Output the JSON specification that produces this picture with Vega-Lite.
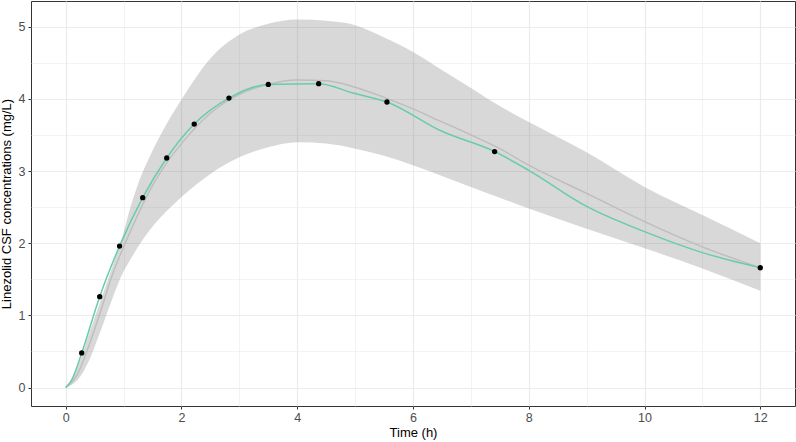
{
  "$schema": "https://vega.github.io/schema/vega-lite/v6.json",
  "width": 764,
  "height": 405,
  "autosize": {"type": "none"},
  "padding": {"left": 31, "top": 1, "right": 1, "bottom": 36},
  "background": "white",
  "config": {
    "font": "Liberation Sans",
    "view": {"stroke": "#333333", "strokeWidth": 1},
    "axis": {
      "domain": false,
      "labelFont": "Liberation Sans",
      "labelFontSize": 12.5,
      "labelColor": "#4d4d4d",
      "titleFont": "Liberation Sans",
      "titleFontSize": 13,
      "titleFontWeight": "normal",
      "titleColor": "#000000",
      "tickColor": "#333333",
      "tickSize": 3,
      "gridColor": "#ebebeb"
    }
  },
  "datasets": {
    "band": [
      {"t": 0, "lo": 0, "hi": 0},
      {"t": 0.2, "lo": 0.1, "hi": 0.28},
      {"t": 0.4, "lo": 0.37, "hi": 0.74},
      {"t": 0.6, "lo": 0.78, "hi": 1.2},
      {"t": 0.8, "lo": 1.22, "hi": 1.66},
      {"t": 1.0, "lo": 1.61, "hi": 2.15},
      {"t": 1.1, "lo": 1.75, "hi": 2.45},
      {"t": 1.25, "lo": 1.95, "hi": 2.82},
      {"t": 1.5, "lo": 2.23, "hi": 3.28},
      {"t": 1.75, "lo": 2.45, "hi": 3.66},
      {"t": 2.0, "lo": 2.64, "hi": 3.99},
      {"t": 2.5, "lo": 2.96, "hi": 4.56},
      {"t": 3.0, "lo": 3.19, "hi": 4.89},
      {"t": 3.5, "lo": 3.33, "hi": 5.04},
      {"t": 4.0, "lo": 3.4, "hi": 5.1},
      {"t": 4.5, "lo": 3.38, "hi": 5.08},
      {"t": 5.0, "lo": 3.31, "hi": 5.02},
      {"t": 5.5, "lo": 3.21, "hi": 4.85},
      {"t": 6.0, "lo": 3.08, "hi": 4.65},
      {"t": 6.5, "lo": 2.93, "hi": 4.4},
      {"t": 7.0, "lo": 2.78, "hi": 4.15},
      {"t": 7.5, "lo": 2.63, "hi": 3.9},
      {"t": 8.0, "lo": 2.48, "hi": 3.68},
      {"t": 9.0, "lo": 2.2, "hi": 3.26},
      {"t": 10.0, "lo": 1.93, "hi": 2.78},
      {"t": 11.0, "lo": 1.65, "hi": 2.39},
      {"t": 12.0, "lo": 1.34, "hi": 2.0}
    ],
    "median": [
      {"t": 0, "c": 0},
      {"t": 0.2, "c": 0.18},
      {"t": 0.4, "c": 0.58},
      {"t": 0.6, "c": 1.05},
      {"t": 0.8, "c": 1.55},
      {"t": 1.0, "c": 1.95},
      {"t": 1.25, "c": 2.4},
      {"t": 1.5, "c": 2.8},
      {"t": 1.75, "c": 3.12},
      {"t": 2.0, "c": 3.38},
      {"t": 2.5, "c": 3.8},
      {"t": 3.0, "c": 4.06},
      {"t": 3.5, "c": 4.2},
      {"t": 4.0, "c": 4.26},
      {"t": 4.5, "c": 4.25},
      {"t": 5.0, "c": 4.16},
      {"t": 5.5, "c": 4.02},
      {"t": 6.0, "c": 3.86},
      {"t": 6.5, "c": 3.68},
      {"t": 7.0, "c": 3.5},
      {"t": 7.5, "c": 3.31},
      {"t": 8.0, "c": 3.08},
      {"t": 9.0, "c": 2.69},
      {"t": 10.0, "c": 2.3},
      {"t": 11.0, "c": 1.95},
      {"t": 12.0, "c": 1.66}
    ],
    "fit": [
      {"t": 0, "c": 0},
      {"t": 0.1, "c": 0.1},
      {"t": 0.276, "c": 0.48},
      {"t": 0.587, "c": 1.26},
      {"t": 0.93, "c": 1.96},
      {"t": 1.33, "c": 2.63},
      {"t": 1.745, "c": 3.18},
      {"t": 2.22, "c": 3.65},
      {"t": 2.82, "c": 4.01},
      {"t": 3.5, "c": 4.2},
      {"t": 4.37, "c": 4.21},
      {"t": 4.96, "c": 4.08},
      {"t": 5.55, "c": 3.956},
      {"t": 6.5, "c": 3.55},
      {"t": 7.41, "c": 3.27},
      {"t": 8.0, "c": 3.01},
      {"t": 9.0, "c": 2.51},
      {"t": 10.0, "c": 2.16},
      {"t": 11.0, "c": 1.87},
      {"t": 12.0, "c": 1.66}
    ],
    "obs": [
      {"t": 0.276, "c": 0.48},
      {"t": 0.587, "c": 1.26},
      {"t": 0.93, "c": 1.96},
      {"t": 1.33, "c": 2.63},
      {"t": 1.745, "c": 3.18},
      {"t": 2.22, "c": 3.65},
      {"t": 2.82, "c": 4.01},
      {"t": 3.5, "c": 4.2},
      {"t": 4.37, "c": 4.21},
      {"t": 5.55, "c": 3.956},
      {"t": 7.41, "c": 3.27},
      {"t": 12.0, "c": 1.66}
    ]
  },
  "layer": [
    {
      "data": {"name": "band"},
      "mark": {"type": "area", "fill": "#7f7f7f", "opacity": 0.3, "interpolate": "monotone"},
      "encoding": {
        "x": {
          "field": "t", "type": "quantitative",
          "scale": {"domain": [-0.6, 12.6], "nice": false, "zero": false},
          "axis": {
            "title": "Time (h)",
            "values": [0, 1, 2, 3, 4, 5, 6, 7, 8, 9, 10, 11, 12],
            "labelExpr": "datum.value % 2 === 0 ? format(datum.value, 'd') : ''",
            "tickOpacity": {"condition": {"test": "datum.value % 2 !== 0", "value": 0}, "value": 1},
            "gridWidth": {"condition": {"test": "datum.value % 2 !== 0", "value": 0.6}, "value": 1.2},
            "labelPadding": 2,
            "titlePadding": 3
          }
        },
        "y": {
          "field": "lo", "type": "quantitative",
          "scale": {"domain": [-0.255, 5.355], "nice": false, "zero": false},
          "axis": {
            "title": "Linezolid CSF concentrations (mg/L)",
            "values": [0, 0.5, 1, 1.5, 2, 2.5, 3, 3.5, 4, 4.5, 5],
            "labelExpr": "datum.value % 1 === 0 ? format(datum.value, 'd') : ''",
            "tickOpacity": {"condition": {"test": "datum.value % 1 !== 0", "value": 0}, "value": 1},
            "gridWidth": {"condition": {"test": "datum.value % 1 !== 0", "value": 0.6}, "value": 1.2},
            "labelPadding": 3,
            "titlePadding": 5
          }
        },
        "y2": {"field": "hi"}
      }
    },
    {
      "data": {"name": "median"},
      "mark": {"type": "line", "color": "#bdbdbd", "strokeWidth": 1.4, "interpolate": "monotone"},
      "encoding": {
        "x": {"field": "t", "type": "quantitative"},
        "y": {"field": "c", "type": "quantitative"}
      }
    },
    {
      "data": {"name": "fit"},
      "mark": {"type": "line", "color": "#66cdaa", "strokeWidth": 1.5, "interpolate": "monotone"},
      "encoding": {
        "x": {"field": "t", "type": "quantitative"},
        "y": {"field": "c", "type": "quantitative"}
      }
    },
    {
      "data": {"name": "obs"},
      "mark": {"type": "circle", "color": "#000000", "opacity": 1, "size": 28},
      "encoding": {
        "x": {"field": "t", "type": "quantitative"},
        "y": {"field": "c", "type": "quantitative"}
      }
    }
  ]
}
